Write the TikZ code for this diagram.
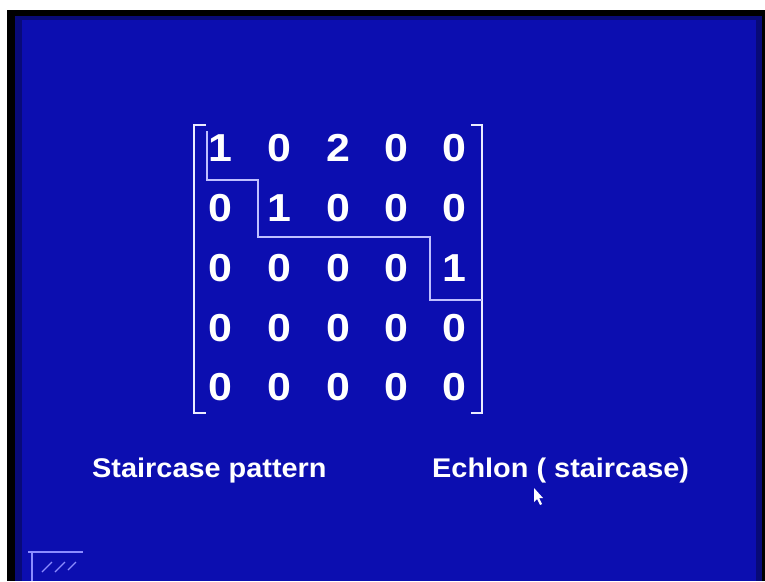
\documentclass[tikz,border=0pt]{standalone}
\usepackage{fontspec}
\setmainfont{Liberation Sans}
\begin{document}
\begin{tikzpicture}[x=1pt,y=-1pt,
  entry/.style={text=white,font=\fontsize{39}{42}\selectfont\bfseries,inner sep=0pt,anchor=center,xscale=1.1},
  caption/.style={text=white,font=\fontsize{27}{30}\selectfont\bfseries,inner sep=0pt,anchor=base west,xscale=1.07},
  bracket/.style={draw=white!92!blue,line width=2.6pt},
  stair/.style={draw=blue!25!white,line width=2.2pt}]
\definecolor{slide}{RGB}{12,14,176}
\definecolor{slideedge}{RGB}{8,10,120}
\useasboundingbox (0,0) rectangle (765,581);
\fill[white] (0,0) rectangle (765,581);
\fill[black] (7,10) rectangle (765,581);
\fill[slideedge] (15,16) rectangle (762,581);
\fill[slide] (22,20) rectangle (756,581);
% matrix entries
\node[entry] (m11) at (220,148) {1};
\node[entry] (m12) at (279,148) {0};
\node[entry] (m13) at (338,148) {2};
\node[entry] (m14) at (396,148) {0};
\node[entry] (m15) at (454,148) {0};
\node[entry] (m21) at (220,208) {0};
\node[entry] (m22) at (279,208) {1};
\node[entry] (m23) at (338,208) {0};
\node[entry] (m24) at (396,208) {0};
\node[entry] (m25) at (454,208) {0};
\node[entry] (m31) at (220,268) {0};
\node[entry] (m32) at (279,268) {0};
\node[entry] (m33) at (338,268) {0};
\node[entry] (m34) at (396,268) {0};
\node[entry] (m35) at (454,268) {1};
\node[entry] (m41) at (220,328) {0};
\node[entry] (m42) at (279,328) {0};
\node[entry] (m43) at (338,328) {0};
\node[entry] (m44) at (396,328) {0};
\node[entry] (m45) at (454,328) {0};
\node[entry] (m51) at (220,387) {0};
\node[entry] (m52) at (279,387) {0};
\node[entry] (m53) at (338,387) {0};
\node[entry] (m54) at (396,387) {0};
\node[entry] (m55) at (454,387) {0};
% brackets
\draw[bracket] (206,125) -- (194,125) -- (194,413) -- (206,413);
\draw[bracket] (471,125) -- (482,125) -- (482,413) -- (471,413);
% staircase
\coordinate (s0) at (207,131);
\coordinate (s1) at (482,300);
\draw[stair] (s0) -- (207,180) -- (258,180) -- (258,237) -- (430,237) -- (430,300) -- (s1);
% captions
\node[caption] (cap1) at (92,477) {Staircase pattern};
\node[caption] (cap2) at (432,477) {Echlon ( staircase)};
% mouse cursor
\fill[white] (534,488) -- (534,502) -- (537,499) -- (540,505) -- (542,504) -- (539,498) -- (543,498) -- cycle;
% bottom-left icon
\draw[blue!45!white,line width=1.5pt] (28,552) -- (83,552);
\draw[blue!45!white,line width=1.5pt] (32,552) -- (32,581);
\draw[blue!45!white,line width=1.2pt] (42,572) -- (52,562) (55,572) -- (65,562) (68,570) -- (76,562);
\end{tikzpicture}
\end{document}
